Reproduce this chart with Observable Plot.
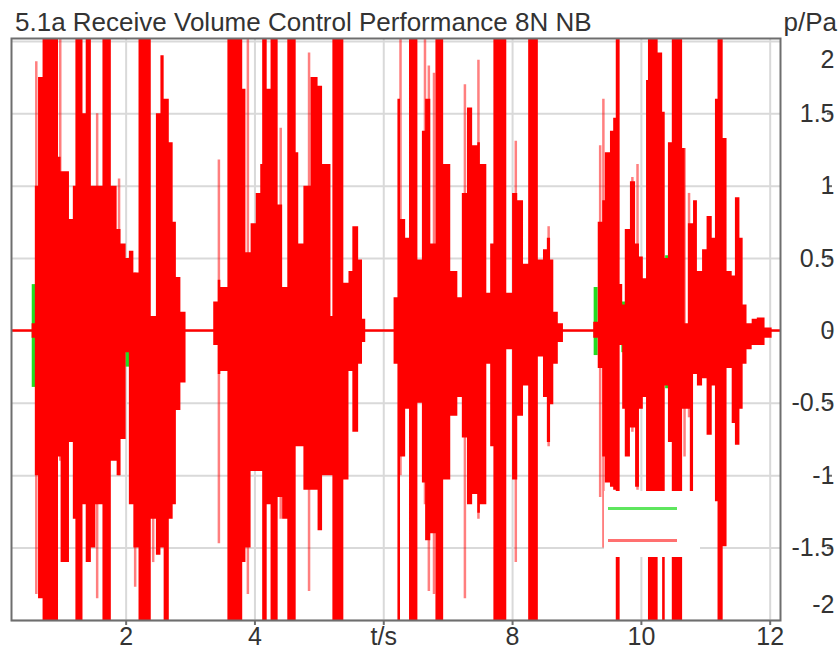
<!DOCTYPE html>
<html><head><meta charset="utf-8">
<script src="https://cdn.jsdelivr.net/npm/d3@7"></script>
<script src="https://cdn.jsdelivr.net/npm/@observablehq/plot@0.6"></script>
<style>
body{margin:0;background:#fff;font-family:"Liberation Sans",Arial,sans-serif;}
#wrap{position:relative;width:839px;height:650px;}
#legend{position:absolute;left:604px;top:491px;width:96px;height:66px;background:#fff;z-index:2;}
#legend .ln{position:absolute;left:4px;width:69px;height:3px;}
</style></head><body>
<div id="wrap"><div id="legend"><div class="ln" style="top:16px;background:#5ee65e"></div><div class="ln" style="top:48px;background:#ff7070"></div></div></div>
<script>
const title = "5.1a Receive Volume Control Performance 8N NB";
const yUnit = "p/Pa";
const xTicks = [2, 4, 6, 8, 10, 12];
const xTickLabels = ["2", "4", "t/s", "8", "10", "12"];
const yTicks = [-2, -1.5, -1, -0.5, 0, 0.5, 1, 1.5, 2];
const yTickLabels = ["-2", "-1.5", "-1", "-0.5", "0", "0.5", "1", "1.5", "2"];
const seriesColors = ["#22dd22", "#ff0000"];

// red series: envelope (step) — time s, max Pa, min Pa
const envT  = [0.20,0.54,0.59,0.64,0.71,0.95,0.99,1.12,1.18,1.22,1.33,1.38,1.46,1.53,1.64,1.77,1.86,1.92,2.00,2.05,2.12,2.20,2.39,2.47,2.54,2.59,2.67,2.73,2.78,2.85,2.93,
  3.36,3.43,3.47,3.58,3.81,3.86,3.94,4.02,4.09,4.12,4.19,4.25,4.36,4.43,4.51,4.64,4.68,4.76,4.87,4.98,5.05,5.18,5.21,5.38,5.46,5.52,5.61,5.67,5.72,
  6.16,6.22,6.26,6.34,6.40,6.53,6.60,6.65,6.73,6.81,6.93,7.04,7.15,7.22,7.30,7.38,7.46,7.50,7.60,7.66,7.71,7.91,8.00,8.08,8.17,8.25,8.40,8.48,8.54,8.59,8.64,8.71,8.79,
  9.26,9.33,9.40,9.44,9.52,9.57,9.61,9.67,9.71,9.75,9.83,9.91,9.97,10.03,10.08,10.11,10.26,10.33,10.37,10.42,10.48,10.64,10.68,10.73,10.76,10.81,10.87,10.95,11.02,11.10,11.15,11.19,11.27,11.33,11.41,11.46,11.53,11.58,11.64,11.72,11.80,11.92,12.03,12.20];
const envHi = [0.009,0.05,1.0,1.75,2.5,1.2,1.1,0.77,1.0,2.5,1.5,2.5,1.0,1.0,2.5,1.0,0.7,0.6,0.5,0.55,0.4,2.5,0.1,1.5,1.9,1.6,1.3,0.75,0.37,0.13,0.009,
  0.2,0.35,0.3,2.5,1.67,0.54,0.74,0.95,1.15,2.5,1.67,2.5,0.87,0.3,2.5,1.23,0.6,1.0,1.75,1.69,1.15,0.1,2.5,0.33,0.41,0.72,0.49,0.08,0.009,
  0.23,1.6,0.77,0.64,2.5,0.49,1.38,1.6,0.6,2.5,1.15,0.41,0.23,0.95,1.54,1.28,1.3,1.15,0.26,0.6,2.5,0.26,0.95,0.9,0.46,2.5,0.49,0.56,0.64,0.49,0.13,0.05,0.009,
  0.06,0.75,0.9,1.23,1.38,1.47,2.5,0.32,0.18,0.7,1.03,0.6,0.51,0.36,1.73,2.5,1.92,1.51,0.5,1.3,2.5,1.26,0.05,0.74,0.74,0.9,0.41,0.56,0.79,0.64,1.6,2.5,1.33,0.41,0.38,0.92,0.64,0.18,0.05,0.08,0.09,0.02,0.009,0.009];
const envLo = [-0.009,-0.05,-1.0,-1.85,-2.5,-0.87,-1.6,-0.77,-1.3,-2.5,-1.2,-1.6,-1.5,-1.2,-2.5,-0.9,-1.0,-0.75,-0.15,-1.2,-1.5,-2.5,-1.3,-1.55,-1.5,-2.5,-1.3,-1.2,-0.55,-0.36,-0.009,
  -0.1,-0.3,-0.28,-2.5,-1.6,-1.5,-0.97,-0.97,-0.97,-2.5,-1.2,-2.5,-1.15,-1.3,-2.5,-0.8,-0.8,-1.1,-1.1,-1.38,-1.0,-1.0,-2.5,-1.03,-0.28,-0.7,-0.23,-0.08,-0.009,
  -0.23,-2.5,-0.87,-0.54,-2.5,-0.5,-1.05,-1.45,-1.4,-2.5,-1.03,-0.59,-0.46,-0.74,-1.2,-1.13,-1.26,-1.2,-0.23,-0.8,-2.5,-0.13,-1.03,-0.59,-0.38,-2.5,-0.18,-0.46,-0.77,-0.51,-0.23,-0.08,-0.009,
  -0.05,-0.26,-0.87,-1.05,-1.08,-1.1,-2.5,-0.1,-0.54,-0.87,-0.67,-1.08,-0.54,-0.46,-1.18,-2.5,-1.18,-2.5,-0.38,-0.77,-2.5,-0.54,-0.54,-0.54,-1.13,-0.3,-0.38,-0.33,-0.72,-0.38,-1.18,-2.5,-1.49,-0.26,-0.64,-0.79,-0.54,-0.23,-0.13,-0.1,-0.1,-0.05,-0.009,-0.009];

// red series: faint single strokes
const spikeT  = [0.605,0.977,1.55,1.89,2.14,2.42, 3.44,3.89,4.40,4.84, 6.26,6.64,6.70,6.78,7.26,7.47,8.05,8.56, 9.36,9.41,9.86,9.94,10.67,10.74];
const spikeHi = [1.86,2.5,1.5,1.05,0.4,0.1, 1.18,2.5,1.4,1.92, 2.5,2.5,1.83,1.78,1.7,1.87,1.31,0.72, 1.28,1.6,1.06,1.15,1.26,0.95];
const spikeLo = [-1.82,-0.9,-1.85,-1.0,-1.77,-1.6, -1.47,-1.82,-1.3,-1.8, -1.0,-1.2,-1.8,-1.82,-1.85,-1.3,-1.6,-0.8, -1.15,-1.5,-0.7,-1.1,-0.87,-0.6];

// green series: parts visible around the red
const greenT  = [0.565, 2.02, 9.29, 9.72, 10.40];
const greenHi = [0.32, 0.0, 0.3, 0.2, 0.52];
const greenLo = [-0.39, -0.25, -0.17, -0.15, -0.4];

const env = envT.map((t, i) => ({t, hi: envHi[i], lo: envLo[i]}));
const spikes = spikeT.map((t, i) => ({t, hi: spikeHi[i], lo: spikeLo[i]}));
const green = greenT.map((t, i) => ({t, hi: greenHi[i], lo: greenLo[i]}));
const yFmt = d => yTickLabels[yTicks.indexOf(d)];

const chart = Plot.plot({
  width: 839, height: 650,
  marginTop: 38, marginBottom: 30, marginLeft: 11, marginRight: 59,
  style: {fontFamily: "'Liberation Sans', Arial, sans-serif", fontSize: "25px", color: "#333", background: "#fff"},
  x: {domain: [0.22, 12.16]},
  y: {domain: [-2.0, 2.02]},
  marks: [
    Plot.gridX(xTicks, {stroke: "#d9d9d9", strokeOpacity: 1, strokeWidth: 2}),
    Plot.gridY(yTicks, {stroke: "#d9d9d9", strokeOpacity: 1, strokeWidth: 2}),
    Plot.ruleX(green, {x: "t", y1: "lo", y2: "hi", stroke: seriesColors[0], strokeWidth: 4, clip: true}),
    Plot.areaY(env, {x: "t", y1: "lo", y2: "hi", curve: "step-after", fill: seriesColors[1], clip: true}),
    Plot.ruleX(spikes, {x: "t", y1: "lo", y2: "hi", stroke: seriesColors[1], strokeOpacity: 0.5, strokeWidth: 2.5, clip: true}),
    Plot.frame({stroke: "#6e6e6e", strokeWidth: 2}),
    Plot.axisX(xTicks, {anchor: "bottom", tickSize: 5, tickPadding: 2, label: null, fontSize: 25, tickFormat: d => xTickLabels[xTicks.indexOf(d)]}),
    Plot.axisY(yTicks.filter(d => Math.abs(d) < 2), {anchor: "right", tickSize: 5, tickPadding: 3, label: null, textAnchor: "end", dx: 46, fontSize: 25, tickFormat: yFmt}),
    Plot.axisY([2], {anchor: "right", tickSize: 0, tickPadding: 8, label: null, textAnchor: "end", dx: 46, dy: 19, fontSize: 25, tickFormat: yFmt}),
    Plot.axisY([-2], {anchor: "right", tickSize: 0, tickPadding: 8, label: null, textAnchor: "end", dx: 46, dy: -16, fontSize: 25, tickFormat: yFmt})
  ]
});
document.getElementById("wrap").appendChild(chart);
const svg = d3.select(chart);
svg.selectAll('g[aria-label="x-axis tick"] path, g[aria-label="y-axis tick"] path').attr("stroke", "#6e6e6e").attr("stroke-width", 2);
svg.append("text").attr("x", 15).attr("y", 31).attr("text-anchor", "start").attr("fill", "#333").attr("font-size", 26).text(title);
svg.append("text").attr("x", 837).attr("y", 31).attr("text-anchor", "end").attr("fill", "#333").attr("font-size", 26).text(yUnit);
</script>
</body></html>
